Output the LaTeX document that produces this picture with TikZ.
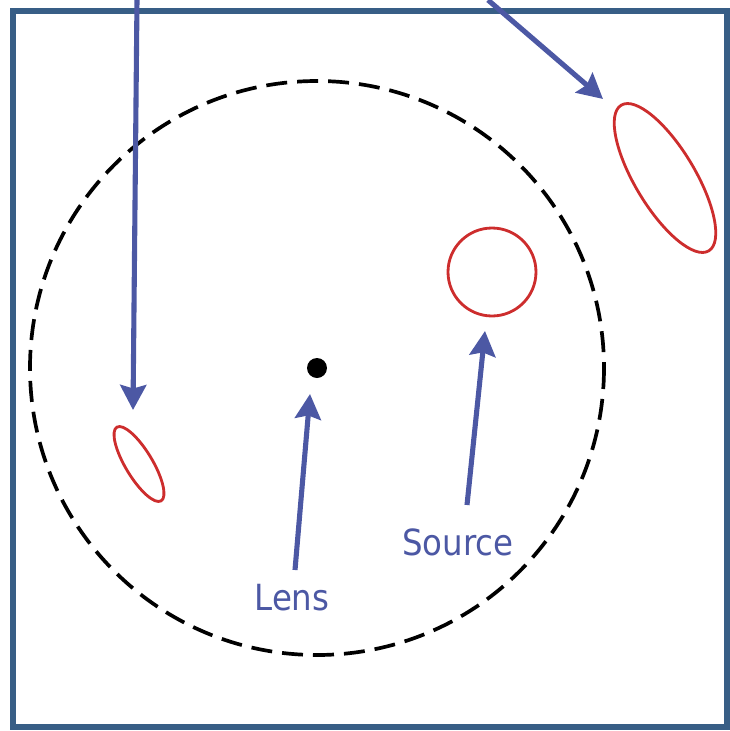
\documentclass[tikz,border=0pt]{standalone}
\usepackage{fontspec}
\setmainfont{DejaVu Sans Condensed}
\usetikzlibrary{arrows.meta, shapes.geometric}
\definecolor{framecol}{RGB}{56,94,134}
\definecolor{pointcol}{RGB}{76,88,164}
\definecolor{imgred}{RGB}{205,45,45}

\begin{document}
\begin{tikzpicture}[x=0.02cm, y=-0.02cm,
    pointer/.style={line width=2.9pt, pointcol, -{Stealth[length=0.5cm, width=0.52cm, inset=0.07cm]}},
    imgshape/.style={draw=imgred, line width=1.6pt, inner sep=0pt},
    tag/.style={pointcol, inner sep=0pt, anchor=base, font=\fontsize{20.5}{24}\selectfont}]
  \useasboundingbox (0,0) rectangle (730,731);

  % === Cadre ===
  \draw[framecol, line width=3.6pt] (13,11) rectangle (727,727);

  % === Lentille et anneau d'Einstein ===
  \node[circle, fill=black, minimum size=0.4cm, inner sep=0pt] (lens) at (317,368) {};
  \draw[line width=2.1pt, dash pattern=on 0.42cm off 0.2cm] (lens) circle [radius=287];

  % === Source et images ===
  \node[imgshape, circle, minimum size=1.76cm] (source) at (492,272) {};
  \node[imgshape, ellipse, minimum width=3.4cm, minimum height=1.2cm, rotate=-59] (imgout) at (665,178) {};
  \node[imgshape, ellipse, minimum width=1.72cm, minimum height=0.54cm, rotate=-59] (imgin) at (139,464) {};

  % === Textes ===
  \node[tag] (lenstag) at (292,610) {Lens};
  \node[tag] (srctag) at (458,555) {Source};

  % === Flèches ===
  \coordinate (lenstail) at (295,570);
  \coordinate (lenstip) at (310,394);
  \coordinate (srctail) at (467,505);
  \coordinate (srctip) at (485,331);
  \coordinate (intail) at (137,0);
  \coordinate (intip) at (133,410);
  \coordinate (outtail) at (488,0);
  \coordinate (outtip) at (603,99);

  \draw[pointer] (lenstail) -- (lenstip);
  \draw[pointer] (srctail) -- (srctip);
  \draw[pointer] (intail) -- (intip);
  \draw[pointer] (outtail) -- (outtip);
\end{tikzpicture}
\end{document}
